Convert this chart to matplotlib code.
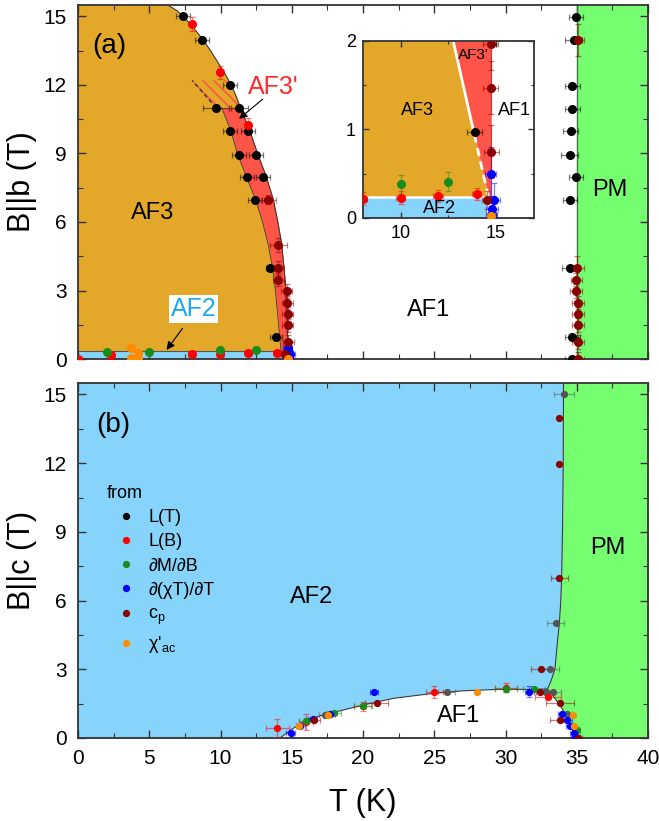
import numpy as np
import matplotlib
matplotlib.use('Agg')
import matplotlib.pyplot as plt
from matplotlib.colors import to_rgba
from matplotlib.lines import Line2D
from matplotlib.ticker import MultipleLocator

plt.rcParams['font.family'] = ['Liberation Sans', 'DejaVu Sans']
plt.rcParams['mathtext.fontset'] = 'custom'
plt.rcParams['mathtext.rm'] = 'Liberation Sans'
plt.rcParams['mathtext.it'] = 'Liberation Sans:italic'
plt.rcParams['hatch.linewidth'] = 1.2

# phase colours
C_AF3 = '#E3A82A'
C_AF3P = '#FF5548'
C_AF2 = '#86D4FB'
C_PM = '#74FE70'
C_LINE = '#3a3a3a'

# point sources (legend order)
src_labels = ['L(T)', 'L(B)', '\u2202M/\u2202B', '\u2202(\u03c7T)/\u2202T',
              r'c$_\mathregular{p}$', "\u03c7'" + r'$_\mathregular{ac}$']
src_colors = ['#000000', '#FF0000', '#1A8C1A', '#0000FF', '#8B0000', '#FF8C00']

# ---------------- panel (a): B || b ----------------
a_LT_T = [7.35, 8.68, 10.67, 9.68, 11.32, 10.67, 11.95, 11.28, 12.50, 11.88, 13.00, 12.40, 13.47, 13.89,
          34.95, 34.80, 34.70, 34.70, 34.57, 34.52, 34.97, 34.52, 34.50, 34.70, 34.70]
a_LT_B = [15.0, 13.96, 12.0, 10.97, 10.97, 9.97, 9.97, 8.95, 8.95, 7.96, 7.96, 6.97, 3.99, 0.97,
          14.98, 13.96, 11.96, 10.95, 9.97, 8.95, 7.96, 6.97, 3.99, 0.97, 0.0]
a_LT_dT = [0.5, 0.5, 0.5, 0.9, 0.6, 0.5, 0.5, 0.5, 0.5, 0.5, 0.5, 0.5, 0.3, 0.4,
           0.5, 0.6, 0.5, 0.5, 0.5, 0.6, 0.5, 0.5, 0.5, 0.5, 0.5]

a_LB_T = [7.98, 9.96, 11.95, 0.0, 2.3, 7.98, 9.98, 11.96, 13.98]
a_LB_B = [14.66, 12.55, 10.26, 0.0, 0.18, 0.22, 0.23, 0.25, 0.27]
a_LB_dT = [0.0, 0.0, 0.0, 0.25, 0.25, 0.25, 0.25, 0.25, 0.25]
a_LB_dB = [0.3, 0.3, 0.3, 0.07, 0.07, 0.07, 0.07, 0.07, 0.07]

a_dMdB_T = [2.0, 5.0, 9.98, 12.49]
a_dMdB_B = [0.32, 0.32, 0.38, 0.41]
a_dMdB_dB = [0.08, 0.08, 0.11, 0.11]

a_chiT_T = [14.72, 14.9, 14.8, 14.76]
a_chiT_B = [0.5, 0.2, 0.1, 0.03]
a_chiT_dT = [0.3, 0.3, 0.3, 0.3]
a_chiT_dB = [0.3, 0.2, 0.15, 0.1]

a_cp_T = [13.36, 14.06, 14.06, 14.06, 14.64, 14.69, 14.72, 14.72, 14.75, 14.54,
          35.1, 35.0, 34.97, 34.95, 35.1, 35.1, 35.1, 35.1, 35.1]
a_cp_B = [6.97, 4.98, 3.99, 3.48, 2.98, 2.47, 1.97, 1.47, 0.75, 0.2,
          13.96, 3.99, 3.48, 2.97, 2.47, 1.97, 1.48, 0.75, 0.0]
a_cp_dT = [0.5, 0.6, 0.4, 0.4, 0.4, 0.4, 0.4, 0.4, 0.4, 0.3,
           0.4, 0.5, 0.4, 0.4, 0.4, 0.4, 0.4, 0.4, 0.4]
a_cp_dB = [0.2, 0.3, 0.3, 0.3, 0.3, 0.3, 0.3, 0.3, 0.3, 0.1,
           0.7, 0.5, 0.3, 0.3, 0.3, 0.3, 0.3, 0.3, 0.3]

a_chiac_T = [3.7, 3.7, 4.18, 4.18, 14.75]
a_chiac_B = [0.49, 0.05, 0.27, 0.05, 0.02]

# phase boundaries (a)
a_edge_B = [0.33, 1, 2, 3, 4, 5, 6, 7, 8, 9, 10, 11]
a_red_in_T = [14.25, 14.15, 14.0, 13.85, 13.65, 13.35, 12.95, 12.45, 11.8, 11.18, 10.72, 10.08]
a_red_out_T = [14.72, 14.71, 14.67, 14.6, 14.45, 14.3, 14.02, 13.7, 13.2, 12.6, 12.05, 11.4]
a_top_B = [11, 11.5, 12, 12.5, 13, 13.5, 14, 14.5, 15, 15.25, 15.5]
a_top_T = [11.4, 11.1, 10.75, 10.3, 9.8, 9.3, 8.75, 8.1, 7.4, 6.95, 6.3]
a_af2_T = [0, 14.64]
a_af2_B = 0.33
a_pm_T = 35.0
a_hatch_T = [8.0, 10.55, 11.1, 11.4, 9.7]
a_hatch_B = [12.2, 12.2, 11.5, 11.0, 11.0]

# inset boundaries
in_B = [0.24, 2.0]
in_left_T = [14.6, 12.75]
in_right_T = 14.75
in_af2_T = [8, 14.55]
in_af2_B = 0.24
in_dash_B = 0.95

# ---------------- panel (b): B || c ----------------
b_LT_T = [34.13, 33.52, 33.12, 25.87, 32.84, 33.31, 34.35, 17.33]
b_LT_B = [15.0, 5.0, 3.0, 2.0, 2.0, 2.0, 1.03, 1.0]
b_LT_dT = [0.7, 0.6, 0.6, 0.6, 0.4, 0.6, 0.3, 0.4]

b_LB_T = [13.99, 16.0, 20.0, 25.0, 30.04, 33.0]
b_LB_B = [0.42, 0.68, 1.38, 2.0, 2.2, 1.8]
b_LB_dT = [0.8, 0.5, 0.6, 0.6, 0.8, 0.9]
b_LB_dB = [0.4, 0.35, 0.2, 0.25, 0.2, 0.1]

b_dMdB_T = [15.98, 17.96, 19.98, 30.04, 32.0, 35.0]
b_dMdB_B = [0.74, 1.1, 1.40, 2.13, 2.12, 0.35]
b_dMdB_dT = [0.5, 0.5, 0.6, 0.8, 0.8, 0.2]
b_dMdB_dB = [0.15, 0.1, 0.1, 0.1, 0.1, 0.1]

b_chiT_T = [14.93, 15.6, 16.47, 17.7, 20.77, 31.67, 34.0, 34.34, 34.53, 34.8, 34.9]
b_chiT_B = [0.2, 0.52, 0.83, 1.03, 2.02, 2.02, 1.05, 0.8, 0.52, 0.23, 0.05]
b_chiT_dT = [0.3] * 11
b_chiT_dB = [0.05, 0.05, 0.05, 0.05, 0.05, 0.25, 0.05, 0.05, 0.05, 0.05, 0.05]

b_cp_T = [16.58, 20.96, 32.42, 32.49, 33.82, 33.82, 33.78, 33.78, 33.78, 35.1]
b_cp_B = [0.79, 1.51, 2.02, 3.0, 1.54, 0.78, 13.97, 11.98, 6.99, 0.0]
b_cp_dT = [0.4, 0.8, 0.3, 0.7, 1.0, 0.7, 0.0, 0.0, 0.6, 0.3]

b_chiac_T = [15.53, 17.56, 27.98, 34.72, 34.8]
b_chiac_B = [0.52, 1.0, 2.02, 1.0, 0.52]

# phase boundaries (b)
b_dome_T = [14.18, 15.0, 16.05, 17.0, 18.15, 20.02, 22.13, 24.94, 27.04, 29.38, 31.72, 32.95]
b_dome_B = [0.0, 0.38, 0.78, 0.97, 1.15, 1.44, 1.73, 1.95, 2.06, 2.12, 2.12, 2.14]
b_pm_B = [0.0, 0.55, 1.05, 1.5, 2.14, 2.5, 3.0, 4.3, 5.0, 6.0, 7.0, 9.0, 12.0, 15.5]
b_pm_T = [34.95, 34.55, 34.2, 33.75, 32.95, 33.2, 33.47, 33.66, 33.78, 33.88, 33.94, 34.0, 34.05, 34.07]

TMAX = 40
BMAX = 15.5


def style_axis(ax, labelsize=15):
    ax.tick_params(which='both', direction='in', top=True, right=True, color='#333333')
    ax.tick_params(which='major', length=6, width=1.0, labelsize=labelsize, pad=8)
    ax.tick_params(which='minor', length=3.5, width=0.8)
    for s in ax.spines.values():
        s.set_linewidth(1.3)
        s.set_color('#333333')


def points(ax, T, B, color, dT=None, dB=None, ms=5.5):
    ax.errorbar(T, B, xerr=dT, yerr=dB, fmt='o', ms=ms, color=color, mec=color,
                ecolor=to_rgba(color, 0.5), elinewidth=0.9, capsize=2.5, capthick=0.9, zorder=5)


def panel_a_points(ax, ms):
    points(ax, a_LT_T, a_LT_B, src_colors[0], dT=a_LT_dT, ms=ms)
    points(ax, a_LB_T, a_LB_B, src_colors[1], dT=a_LB_dT, dB=a_LB_dB, ms=ms)
    points(ax, a_dMdB_T, a_dMdB_B, src_colors[2], dB=a_dMdB_dB, ms=ms)
    points(ax, a_chiT_T, a_chiT_B, src_colors[3], dT=a_chiT_dT, dB=a_chiT_dB, ms=ms)
    points(ax, a_cp_T, a_cp_B, src_colors[4], dT=a_cp_dT, dB=a_cp_dB, ms=ms)
    points(ax, a_chiac_T, a_chiac_B, src_colors[5], ms=ms)


fig = plt.figure(figsize=(6.59, 8.21), dpi=100)
ax1 = fig.add_axes([0.1184, 0.5627, 0.8649, 0.4312])
ax2 = fig.add_axes([0.1184, 0.1011, 0.8649, 0.4324])

# ---- (a) ----
B_outer = a_edge_B + a_top_B[1:]
T_outer = a_red_out_T + a_top_T[1:]
ax1.fill_betweenx(B_outer, 0, T_outer, color=C_AF3, lw=0, zorder=1)
ax1.fill_betweenx(a_edge_B, a_red_in_T, a_red_out_T, color=C_AF3P, lw=0, zorder=1)
ax1.fill(a_hatch_T, a_hatch_B, facecolor=C_AF3, edgecolor=C_AF3P, hatch='\\\\\\', lw=0, zorder=1)
ax1.plot(a_hatch_T[-1:] + a_hatch_T[:1], a_hatch_B[-1:] + a_hatch_B[:1], ls=(0, (3, 2)), color='#333333', lw=1.0, zorder=2)
ax1.fill_between(a_af2_T, 0, a_af2_B, color=C_AF2, lw=0, zorder=1)
ax1.plot(a_af2_T, [a_af2_B] * 2, color='#555555', lw=0.8, zorder=2)
ax1.fill_betweenx([0, BMAX], a_pm_T, TMAX, color=C_PM, lw=0, zorder=1)
ax1.plot([a_pm_T] * 2, [0, BMAX], color='#3c7a3c', lw=1.0, zorder=2)
ax1.plot(T_outer, B_outer, color=C_LINE, lw=0.8, zorder=2)
ax1.plot(a_red_in_T, a_edge_B, color=C_LINE, lw=0.6, zorder=2)

panel_a_points(ax1, 5.5)

ax1.set_xlim(0, TMAX)
ax1.set_ylim(0, BMAX)
ax1.xaxis.set_major_locator(MultipleLocator(5))
ax1.xaxis.set_minor_locator(MultipleLocator(2.5))
ax1.yaxis.set_major_locator(MultipleLocator(3))
ax1.yaxis.set_minor_locator(MultipleLocator(1.5))
ax1.set_xticklabels([])
style_axis(ax1)
ax1.set_ylabel('B||b (T)', fontsize=22)
ax1.yaxis.set_label_coords(-0.072, 0.5)

ax1.text(2.2, 13.7, '(a)', fontsize=20, ha='center', va='center')
ax1.text(5.2, 6.4, 'AF3', fontsize=17, ha='center', va='center', zorder=6)
ax1.text(24.6, 2.14, 'AF1', fontsize=17, ha='center', va='center', zorder=6)
ax1.text(37.3, 7.4, 'PM', fontsize=17, ha='center', va='center', zorder=6)
ax1.text(13.7, 11.9, "AF3'", fontsize=18, color='#FF2A2A', ha='center', va='center', zorder=6)
ax1.annotate('', xy=(11.15, 10.44), xytext=(13.1, 11.45),
             arrowprops=dict(arrowstyle='-|>', color='k', lw=0.8, mutation_scale=12), zorder=6)
ax1.text(8.1, 2.2, 'AF2', fontsize=18, color='#1DA8F5', ha='center', va='center', zorder=6,
         bbox=dict(facecolor='white', edgecolor='none', pad=1.5))
ax1.annotate('', xy=(6.1, 0.3), xytext=(7.45, 1.44),
             arrowprops=dict(arrowstyle='-|>', color='k', lw=0.8, mutation_scale=12), zorder=6)

# ---- inset ----
axi = fig.add_axes([0.5508, 0.7345, 0.2595, 0.2156])
axi.fill_betweenx(in_B, 8, in_left_T, color=C_AF3, lw=0, zorder=1)
axi.fill_betweenx(in_B, in_left_T, in_right_T, color=C_AF3P, lw=0, zorder=1)
axi.fill_between(in_af2_T, 0, in_af2_B, color=C_AF2, lw=0, zorder=1)
axi.plot(in_af2_T, [in_af2_B] * 2, color='white', lw=1.8, zorder=2)
T_split = np.interp(in_dash_B, in_B, in_left_T)
axi.plot([T_split, in_left_T[1]], [in_dash_B, in_B[1]], color='white', lw=2, zorder=2)
axi.plot([in_left_T[0], T_split], [in_B[0], in_dash_B], color='white', lw=2, ls=(0, (3, 2)), zorder=2)
panel_a_points(axi, 5.5)
axi.set_xlim(8, 17)
axi.set_ylim(0, 2)
axi.set_xticks([10, 15])
axi.xaxis.set_minor_locator(MultipleLocator(2.5))
axi.set_yticks([0, 1, 2])
axi.yaxis.set_minor_locator(MultipleLocator(0.5))
style_axis(axi, labelsize=13)
axi.tick_params(which='major', length=4, pad=5)
axi.tick_params(which='minor', length=2.5)
axi.text(13.8, 1.84, "AF3'", fontsize=11, ha='center', va='center', zorder=6)
axi.text(10.85, 1.22, 'AF3', fontsize=13, ha='center', va='center', zorder=6)
axi.text(15.95, 1.22, 'AF1', fontsize=13, ha='center', va='center', zorder=6)
axi.text(12.05, 0.11, 'AF2', fontsize=13, ha='center', va='center', zorder=6)

# ---- (b) ----
ax2.fill_betweenx(b_pm_B, 0, b_pm_T, color=C_AF2, lw=0, zorder=1)
ax2.fill_betweenx(b_pm_B, b_pm_T, TMAX, color=C_PM, lw=0, zorder=1)
n_low = b_pm_B.index(b_dome_B[-1])
af1_T = b_dome_T + b_pm_T[:n_low][::-1]
af1_B = b_dome_B + b_pm_B[:n_low][::-1]
ax2.fill(af1_T, af1_B, color='white', lw=0, zorder=1)
ax2.plot(b_dome_T, b_dome_B, color=C_LINE, lw=0.8, zorder=2)
ax2.plot(b_pm_T, b_pm_B, color=C_LINE, lw=0.8, zorder=2)

ms_b = 4.2
points(ax2, b_LT_T, b_LT_B, '#555555', dT=b_LT_dT, ms=ms_b)
points(ax2, b_LB_T, b_LB_B, src_colors[1], dT=b_LB_dT, dB=b_LB_dB, ms=ms_b)
points(ax2, b_dMdB_T, b_dMdB_B, src_colors[2], dT=b_dMdB_dT, dB=b_dMdB_dB, ms=ms_b)
points(ax2, b_chiT_T, b_chiT_B, src_colors[3], dT=b_chiT_dT, dB=b_chiT_dB, ms=ms_b)
points(ax2, b_cp_T, b_cp_B, src_colors[4], dT=b_cp_dT, ms=ms_b)
points(ax2, b_chiac_T, b_chiac_B, src_colors[5], ms=ms_b)

ax2.set_xlim(0, TMAX)
ax2.set_ylim(0, BMAX)
ax2.xaxis.set_major_locator(MultipleLocator(5))
ax2.xaxis.set_minor_locator(MultipleLocator(2.5))
ax2.yaxis.set_major_locator(MultipleLocator(3))
ax2.yaxis.set_minor_locator(MultipleLocator(1.5))
style_axis(ax2)
ax2.set_ylabel('B||c (T)', fontsize=22)
ax2.yaxis.set_label_coords(-0.072, 0.5)
ax2.set_xlabel('T (K)', fontsize=22)
ax2.xaxis.set_label_coords(0.5, -0.14)

ax2.text(2.5, 13.65, '(b)', fontsize=20, ha='center', va='center')
ax2.text(16.4, 6.15, 'AF2', fontsize=17, ha='center', va='center', zorder=6)
ax2.text(37.2, 8.3, 'PM', fontsize=17, ha='center', va='center', zorder=6)
ax2.text(26.7, 0.96, 'AF1', fontsize=17, ha='center', va='center', zorder=6)

handles = [Line2D([], [], ls='none', marker='o', ms=4.2, color=c) for c in src_colors]
leg = ax2.legend(handles, src_labels, title='from', loc='upper left', bbox_to_anchor=(0.05, 0.713),
                 frameon=False, fontsize=13, title_fontsize=13, borderpad=0, borderaxespad=0,
                 handlelength=2.2, handletextpad=0.1, labelspacing=0.4, alignment='left')

fig.savefig('out.png', dpi=100)
